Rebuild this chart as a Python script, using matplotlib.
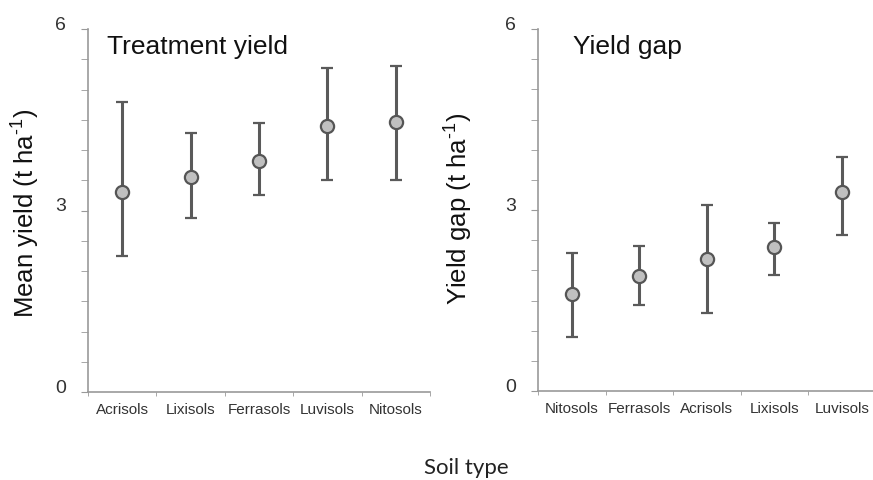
import numpy as np
import matplotlib
matplotlib.use("Agg")
from matplotlib import pyplot as plt
from matplotlib.ticker import MultipleLocator, FixedLocator
from matplotlib.transforms import ScaledTranslation

plt.rcParams['font.family'] = ['Liberation Sans', 'DejaVu Sans']
plt.rcParams['mathtext.fontset'] = 'custom'
plt.rcParams['mathtext.rm'] = 'Liberation Sans'

# treatment yield panel
solos_a = ["Acrisols", "Lixisols", "Ferrasols", "Luvisols", "Nitosols"]
media_a = [3.30, 3.56, 3.82, 4.39, 4.47]
sup_a = [4.80, 4.28, 4.45, 5.36, 5.39]
inf_a = [2.24, 2.88, 3.25, 3.50, 3.50]

# yield gap panel
solos_b = ["Nitosols", "Ferrasols", "Acrisols", "Lixisols", "Luvisols"]
media_b = [1.60, 1.90, 2.19, 2.39, 3.30]
sup_b = [2.29, 2.40, 3.09, 2.79, 3.88]
inf_b = [0.90, 1.43, 1.30, 1.92, 2.59]

fig = plt.figure(figsize=(8.73, 4.81), dpi=100)
ax1 = fig.add_axes([88/873, 1-393/481, 342/873, 363/481])
ax2 = fig.add_axes([538/873, 1-392/481, 337.5/873, 362/481])


def painel(ax, solos, media, sup, inf, titulo, tx):
    x = np.arange(len(solos))
    media = np.array(media)
    erro = [media - np.array(inf), np.array(sup) - media]
    ax.errorbar(x, media, yerr=erro, fmt='o', color='#5a5a5a', ecolor='#5a5a5a',
                elinewidth=2.2, capsize=4, capthick=1.8, markersize=9.5,
                markerfacecolor='#c0c0c0', markeredgecolor='#555555',
                markeredgewidth=1.6, clip_on=False)
    ax.set_xlim(-0.5, len(solos) - 0.5)
    ax.set_ylim(0, 6)
    ax.yaxis.set_major_locator(FixedLocator([0, 3, 6]))
    ax.yaxis.set_minor_locator(MultipleLocator(0.5))
    ax.set_xticks(x)
    ax.set_xticklabels(solos, fontsize=11, color='#333333',
                       family=['Liberation Sans Narrow', 'Liberation Sans'])
    ax.xaxis.set_minor_locator(FixedLocator(np.arange(len(solos) + 1) - 0.5))
    ax.tick_params(axis='x', which='major', length=0, pad=7)
    ax.tick_params(axis='x', which='minor', length=3, color='#999999')
    ax.tick_params(axis='y', which='both', length=5, color='#999999',
                   labelsize=14, labelcolor='#333333', pad=11)
    desloc = ScaledTranslation(0, 5/72, fig.dpi_scale_trans)
    for rot in ax.get_yticklabels():
        rot.set_transform(rot.get_transform() + desloc)
    for lado in ['top', 'right']:
        ax.spines[lado].set_visible(False)
    for lado in ['left', 'bottom']:
        ax.spines[lado].set_color('#999999')
        ax.spines[lado].set_linewidth(1.2)
    ax.text(tx, 0.985, titulo, transform=ax.transAxes, fontsize=19,
            va='top', ha='left', color='#111111')


painel(ax1, solos_a, media_a, sup_a, inf_a, "Treatment yield", 0.056)
painel(ax2, solos_b, media_b, sup_b, inf_b, "Yield gap", 0.104)

fig.text(25/873, 1-213/481, "Mean yield (t ha$^{\\text{-1}}$)", rotation=90,
         ha='center', va='center', fontsize=18.5, color='#111111')
fig.text(457.5/873, 1-209/481, "Yield gap (t ha$^{\\text{-1}}$)", rotation=90,
         ha='center', va='center', fontsize=18.5, color='#111111')

fig.text(466/873, 1-468/481, "Soil type", ha='center', va='center', fontsize=16,
         family=['Lato', 'DejaVu Sans'], color='#222222')

fig.savefig("out.png", dpi=100)
